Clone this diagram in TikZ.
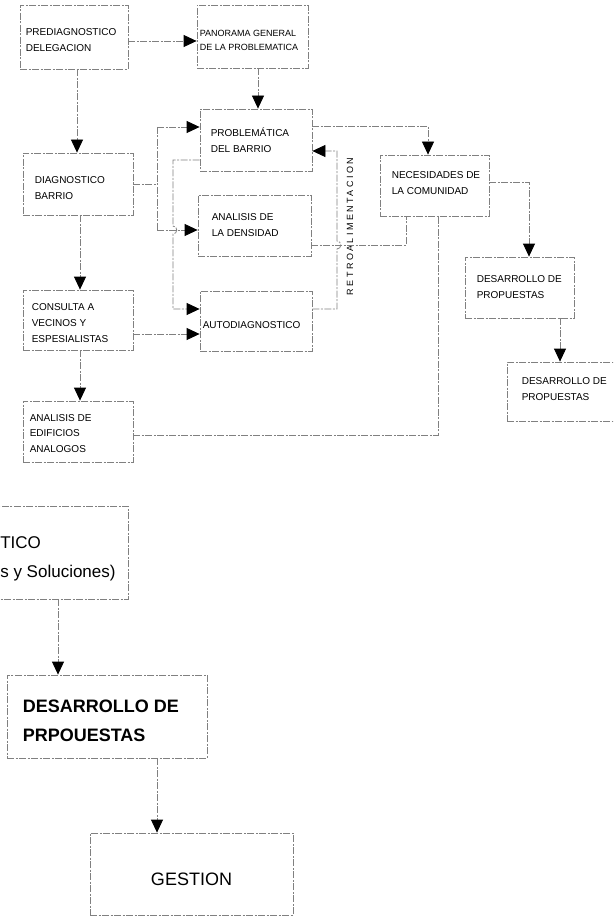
\documentclass[tikz,border=0pt]{standalone}
\usepackage{fontspec}
\setmainfont{Liberation Sans}
\usetikzlibrary{arrows.meta,positioning}

\tikzset{
    caja/.style={draw=black!50, line width=0.8pt, dash pattern=on 7pt off 1.5pt on 2pt off 1.5pt, inner sep=0pt},
    linea/.style={draw=black!50, line width=0.8pt, dash pattern=on 7pt off 1.5pt on 2pt off 1.5pt},
    flecha/.style={linea, -{Triangle[length=13pt, width=12pt, color=black, fill=black]}},
    texto/.style={align=left, inner sep=0pt, font=\fontsize{10}{16}\selectfont},
    grande/.style={align=left, inner sep=0pt, font=\fontsize{18}{29}\selectfont},
}

\begin{document}
\begin{tikzpicture}[x=1pt, y=-1pt]
    \useasboundingbox (0,0) rectangle (613,917);
    \clip (0,0) rectangle (613,917);

    % cajas
    \node[caja, minimum width=108pt, minimum height=64pt] (pre)          at (74,37)      {};
    \node[caja, minimum width=111pt, minimum height=63pt] (panorama)     at (252.5,36.5) {};
    \node[caja, minimum width=112pt, minimum height=62pt] (problematica) at (256,140)    {};
    \node[caja, minimum width=110pt, minimum height=62pt] (diag)         at (78,184)     {};
    \node[caja, minimum width=113pt, minimum height=61pt] (densidad)     at (254.5,225.5) {};
    \node[caja, minimum width=110pt, minimum height=60pt] (consulta)     at (78,320)     {};
    \node[caja, minimum width=112pt, minimum height=60pt] (autodiag)     at (256,321)    {};
    \node[caja, minimum width=110pt, minimum height=61pt] (edificios)    at (78,431.5)   {};
    \node[caja, minimum width=109pt, minimum height=61pt] (necesidades)  at (434.5,185.5) {};
    \node[caja, minimum width=109pt, minimum height=61pt] (desarrolloA)  at (519.5,287.5) {};
    \node[caja, minimum width=118pt, minimum height=59pt] (desarrolloB)  at (566,391.5)  {};
    \node[caja, minimum width=148pt, minimum height=93pt] (general)      at (54,552.5)   {};
    \node[caja, minimum width=200pt, minimum height=83pt] (desarrolloC)  at (107,716.5)  {};
    \node[caja, minimum width=203pt, minimum height=82pt] (gestion)      at (191.5,874)  {};

    % textos
    \node[texto, right=6pt of pre.west, yshift=-3.5pt] (pre-t) {PREDIAGNOSTICO\\DELEGACION};
    \node[texto, font=\fontsize{9}{14}\selectfont, right=3pt of panorama.west, yshift=-3.5pt] (panorama-t) {PANORAMA GENERAL\\DE LA PROBLEMATICA};
    \node[texto, right=11pt of problematica.west] (problematica-t) {PROBLEMÁTICA\\DEL BARRIO};
    \node[texto, right=12pt of diag.west, yshift=-4.5pt] (diag-t) {DIAGNOSTICO\\BARRIO};
    \node[texto, right=14pt of densidad.west] (densidad-t) {ANALISIS DE\\LA DENSIDAD};
    \node[texto, right=9pt of consulta.west, yshift=-3pt] (consulta-t) {CONSULTA A\\VECINOS Y\\ESPESIALISTAS};
    \node[texto, right=3pt of autodiag.west, yshift=-4pt] (autodiag-t) {AUTODIAGNOSTICO};
    \node[texto, font=\fontsize{10}{15.5}\selectfont, right=7pt of edificios.west, yshift=-2pt] (edificios-t) {ANALISIS DE\\EDIFICIOS\\ANALOGOS};
    \node[texto, right=12pt of necesidades.west, yshift=2pt] (necesidades-t) {NECESIDADES DE\\LA COMUNIDAD};
    \node[texto, right=12pt of desarrolloA.west] (desarrolloA-t) {DESARROLLO DE\\PROPUESTAS};
    \node[texto, right=15pt of desarrolloB.west, yshift=2.5pt] (desarrolloB-t) {DESARROLLO DE\\PROPUESTAS};
    \node[grande, font=\fontsize{17}{29}\selectfont, right=20.5pt of general.west, yshift=-6.5pt] (general-t) {TICO\\s y Soluciones)};
    \node[grande, font=\fontsize{18}{29}\selectfont\bfseries, right=16pt of desarrolloC.west, yshift=-4.5pt] (desarrolloC-t) {DESARROLLO DE\\PRPOUESTAS};
    \node[grande, yshift=-5pt] (gestion-t) at (gestion) {GESTION};
    \node[inner sep=0pt, rotate=90, font=\fontsize{9}{11}\selectfont\addfontfeature{LetterSpace=27}] (retro) at (350,226.5) {RETROALIMENTACION};

    % puntos de quiebre
    \coordinate (c1) at (0,41);
    \coordinate (c2) at (258,0);
    \coordinate (c3) at (77,0);
    \coordinate (c4) at (80,0);
    \coordinate (c5) at (0,334);
    \coordinate (c6) at (560,0);
    \coordinate (c7) at (58,0);
    \coordinate (c8) at (157,0);
    \coordinate (j1) at (157,127);
    \coordinate (j2) at (157,230);
    \coordinate (k1) at (173,160);
    \coordinate (k2) at (173,309);
    \coordinate (x1) at (k1 |- j2);
    \coordinate (m1) at (428,126);
    \coordinate (r1) at (337,151);
    \coordinate (r2) at (337,309);
    \coordinate (s1) at (406,245);
    \coordinate (x2) at (r1 |- s1);
    \coordinate (t1) at (529,182);
    \coordinate (v1) at (438,435);

    % conexiones
    \draw[flecha] (pre.east |- c1) -- (panorama.west |- c1);
    \draw[flecha] (panorama.south -| c2) -- (problematica.north -| c2);
    \draw[flecha] (pre.south -| c3) -- (diag.north -| c3);
    \draw[flecha] (diag.south -| c4) -- (consulta.north -| c4);
    \draw[flecha] (consulta.south -| c4) -- (edificios.north -| c4);
    \draw[linea] (diag.east) -- (diag.east -| j1);
    \draw[linea] (j1) -- (j2);
    \draw[flecha] (j1) -- (problematica.west |- j1);
    \draw[flecha] (j2) -- (densidad.west |- j2);
    \draw[flecha] (problematica.west |- k1) -- (k1) -- ([yshift=4pt]x1) .. controls +(5,0) and +(5,0) .. ([yshift=-4pt]x1) -- (k2) -- (autodiag.west |- k2);
    \draw[flecha] (consulta.east |- c5) -- (autodiag.west |- c5);
    \draw[flecha] (problematica.east |- m1) -- (m1) -- (necesidades.north -| m1);
    \draw[flecha] (autodiag.east |- r2) -- (r2) -- ([yshift=-4pt]x2) .. controls +(5,0) and +(5,0) .. ([yshift=4pt]x2) -- (r1) -- (problematica.east |- r1);
    \draw[linea] (densidad.east |- s1) -- (s1) -- (necesidades.south -| s1);
    \draw[flecha] (necesidades.east |- t1) -- (t1) -- (desarrolloA.north -| t1);
    \draw[flecha] (desarrolloA.south -| c6) -- (desarrolloB.north -| c6);
    \draw[linea] (edificios.east |- v1) -- (v1) -- (necesidades.south -| v1);
    \draw[flecha] (general.south -| c7) -- (desarrolloC.north -| c7);
    \draw[flecha] (desarrolloC.south -| c8) -- (gestion.north -| c8);
\end{tikzpicture}
\end{document}
